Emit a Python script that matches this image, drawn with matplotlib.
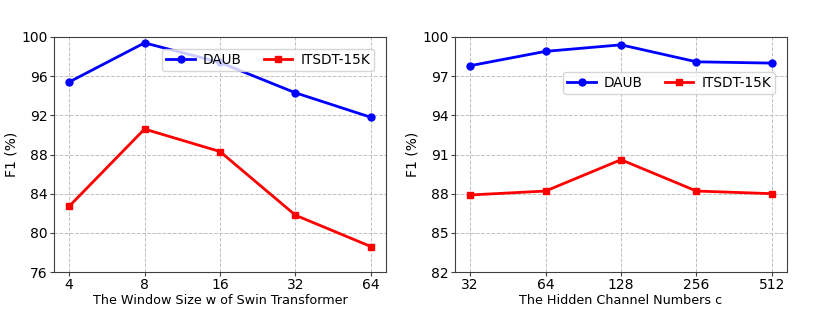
import matplotlib
matplotlib.use("Agg")
import matplotlib.pyplot as plt

# left: window size
win_labels = ["4", "8", "16", "32", "64"]
win_daub = [95.4, 99.4, 97.4, 94.3, 91.8]
win_itsdt = [82.7, 90.6, 88.3, 81.8, 78.6]

# right: hidden channels
ch_labels = ["32", "64", "128", "256", "512"]
ch_daub = [97.8, 98.9, 99.4, 98.1, 98.0]
ch_itsdt = [87.9, 88.2, 90.6, 88.2, 88.0]

plt.rcParams["font.size"] = 9.2

fig = plt.figure(figsize=(8.3, 3.1), dpi=100)
ax1 = fig.add_axes([54/830, 1 - 272/310, 332/830, 235/310])
ax2 = fig.add_axes([455/830, 1 - 272/310, 332/830, 235/310])


def draw(ax, labels, daub, itsdt, yt, xlabel):
    x = range(len(labels))
    ax.plot(x, daub, "-o", color="blue", lw=2, ms=5, label="DAUB")
    ax.plot(x, itsdt, "-s", color="red", lw=2, ms=5, label="ITSDT-15K")
    ax.set_xticks(list(x))
    ax.set_xticklabels(labels)
    ax.set_xlim(-0.2, len(labels) - 0.8)
    ax.set_yticks(yt)
    ax.set_ylim(yt[0], yt[-1])
    ax.tick_params(labelsize=10, pad=1.5, length=3, color="#404040")
    ax.grid(True, ls="--", color="#c0c0c0", lw=0.7)
    ax.set_xlabel(xlabel, labelpad=1)
    ax.set_ylabel("F1 (%)", labelpad=2, fontsize=10)
    for s in ax.spines.values():
        s.set_color("#404040")


draw(ax1, win_labels, win_daub, win_itsdt, [76, 80, 84, 88, 92, 96, 100],
     "The Window Size w of Swin Transformer")
draw(ax2, ch_labels, ch_daub, ch_itsdt, [82, 85, 88, 91, 94, 97, 100],
     "The Hidden Channel Numbers c")

ax1.legend(ncol=2, loc="upper right", bbox_to_anchor=(0.985, 0.98),
           columnspacing=1.6, borderpad=0.3, handlelength=2.1, handletextpad=0.6,
           fontsize=9.8)
ax2.legend(ncol=2, loc="upper right", bbox_to_anchor=(0.985, 0.88),
           columnspacing=1.6, borderpad=0.3, handlelength=2.1, handletextpad=0.6,
           fontsize=9.8)

fig.savefig("out.png", dpi=100)
